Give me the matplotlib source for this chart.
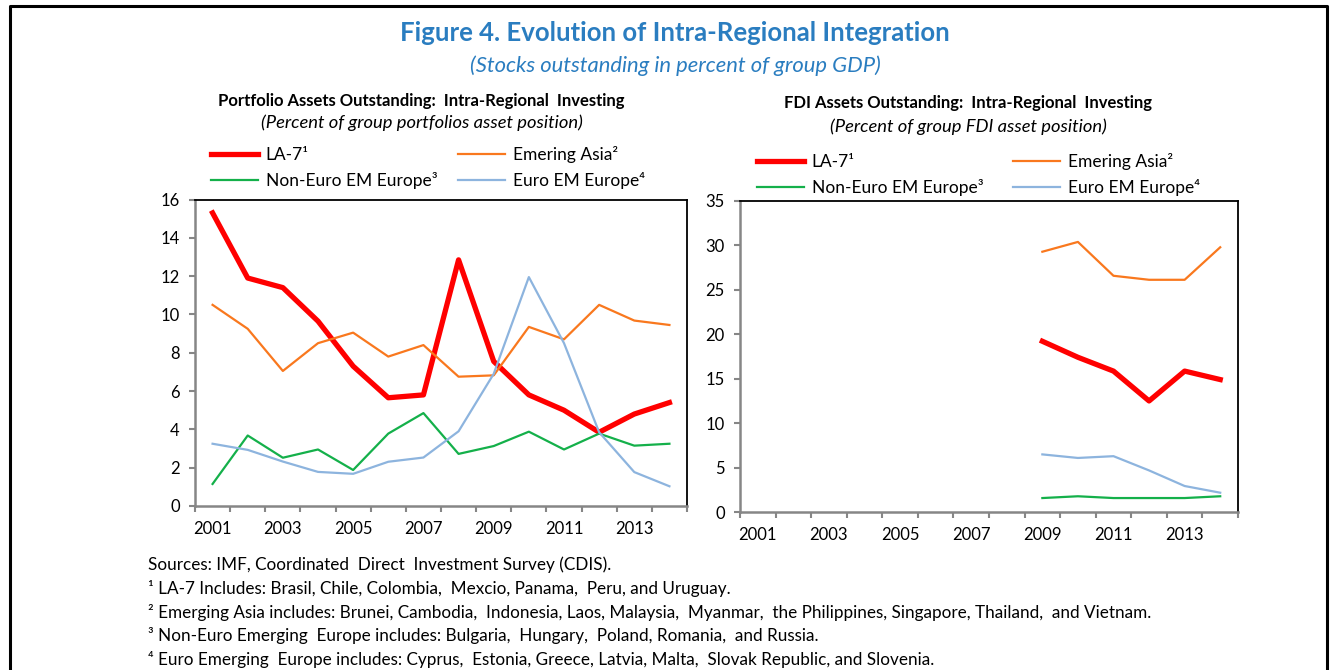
import numpy as np
import matplotlib.pyplot as plt
from matplotlib.lines import Line2D

plt.rcParams['font.family'] = ['Lato', 'DejaVu Sans']

# Data
years = [str(y) for y in range(2001, 2015)]
year_labels = ["2001", "2003", "2005", "2007", "2009", "2011", "2013"]

series_names = ["LA-7\u00b9", "Emering Asia\u00b2", "Non-Euro EM Europe\u00b3", "Euro EM Europe\u2074"]

# Portfolio assets (2001-2014)
port_la7 = [15.3, 11.9, 11.4, 9.65, 7.3, 5.65, 5.8, 12.85, 7.55, 5.8, 5.0, 3.85, 4.8, 5.4]
port_asia = [10.5, 9.25, 7.05, 8.5, 9.05, 7.8, 8.4, 6.75, 6.82, 9.35, 8.7, 10.5, 9.68, 9.45]
port_noneuro = [1.15, 3.68, 2.52, 2.95, 1.88, 3.78, 4.85, 2.72, 3.13, 3.88, 2.95, 3.78, 3.15, 3.25]
port_euro = [3.25, 2.93, 2.32, 1.78, 1.68, 2.31, 2.53, 3.9, 6.9, 11.95, 8.5, 3.85, 1.77, 1.03]

# FDI assets (2009-2014 only)
fdi_years = ["2009", "2010", "2011", "2012", "2013", "2014"]
fdi_la7 = [19.2, 17.4, 15.85, 12.5, 15.85, 14.9]
fdi_asia = [29.25, 30.35, 26.55, 26.1, 26.1, 29.75]
fdi_noneuro = [1.6, 1.8, 1.6, 1.6, 1.6, 1.8]
fdi_euro = [6.5, 6.1, 6.3, 4.7, 2.95, 2.2]

colors = ["#ff0000", "#f9781e", "#14b04a", "#8db4de"]
widths = [3.8, 1.6, 1.6, 1.6]

W, H = 1335, 670
fig = plt.figure(figsize=(W / 100, H / 100), dpi=100)


def px_box(x0, x1, ytop, ybot):
    return [x0 / W, (H - ybot) / H, (x1 - x0) / W, (ybot - ytop) / H]


def style_axis(ax, ymax, ystep):
    x = np.arange(len(years))
    ax.set_xlim(-0.5, len(years) - 0.5)
    ax.set_ylim(0, ymax)
    ax.set_yticks(np.arange(0, ymax + 1, ystep))
    # boundary tick marks, labels on every other category
    ax.set_xticks(np.arange(-0.5, len(years), 1))
    ax.set_xticklabels([])
    ax.set_xticks(x[::2], minor=True)
    ax.set_xticklabels(year_labels, minor=True)
    ax.tick_params(axis="x", which="major", length=4.5, width=1.5, color="#868686", direction="out")
    ax.tick_params(axis="x", which="minor", length=0, pad=10.5, labelsize=12)
    ax.tick_params(axis="y", length=4, width=1.5, color="#868686", pad=7, labelsize=12)
    for s in ["left", "bottom"]:
        ax.spines[s].set_color("#868686")
        ax.spines[s].set_linewidth(1.8)
    for s in ["top", "right"]:
        ax.spines[s].set_color("black")
        ax.spines[s].set_linewidth(1.3)


def draw_lines(ax, xs, vals):
    handles = []
    for v, c, lw, name in zip(vals, colors, widths, series_names):
        h, = ax.plot(xs, v, color=c, lw=lw, label=name, solid_joinstyle="round")
        handles.append(h)
    return handles


leg_kw = dict(ncol=2, loc="upper left", frameon=False, fontsize=12.5,
              handlelength=2.7, handletextpad=0.45, labelspacing=0.5,
              borderpad=0, borderaxespad=0)

# ---- Left panel ----
ax1 = fig.add_axes(px_box(195, 687, 199.5, 506))
style_axis(ax1, 16, 2)
h1 = draw_lines(ax1, np.arange(len(years)),
                [port_la7, port_asia, port_noneuro, port_euro])
order = [0, 2, 1, 3]
ax1.legend([h1[i] for i in order], [series_names[i] for i in order],
           bbox_to_anchor=(211 / W, 1 - 146 / H), bbox_transform=fig.transFigure,
           columnspacing=1.2, **leg_kw)

# ---- Right panel ----
ax2 = fig.add_axes(px_box(740, 1238, 200.5, 512.3))
style_axis(ax2, 35, 5)
fdi_x = [years.index(y) for y in fdi_years]
h2 = draw_lines(ax2, fdi_x, [fdi_la7, fdi_asia, fdi_noneuro, fdi_euro])
ax2.legend([h2[i] for i in order], [series_names[i] for i in order],
           bbox_to_anchor=(757 / W, 1 - 153 / H), bbox_transform=fig.transFigure,
           columnspacing=1.7, **leg_kw)

# ---- Titles ----
blue = "#2a7dc0"
fig.text(675 / W, 1 - 33 / H, "Figure 4. Evolution of Intra-Regional Integration",
         ha="center", va="center", fontsize=18.5, fontweight="bold", color=blue)
fig.text(675 / W, 1 - 66 / H, "(Stocks outstanding in percent of group GDP)",
         ha="center", va="center", fontsize=15.8, style="italic", color=blue)

fig.text(421 / W, 1 - 101 / H, "Portfolio Assets Outstanding:  Intra-Regional  Investing",
         ha="center", va="center", fontsize=12, fontweight="bold")
fig.text(422 / W, 1 - 123 / H, "(Percent of group portfolios asset position)",
         ha="center", va="center", fontsize=13.2, style="italic")
fig.text(968 / W, 1 - 103 / H, "FDI Assets Outstanding:  Intra-Regional  Investing",
         ha="center", va="center", fontsize=12, fontweight="bold")
fig.text(968 / W, 1 - 127 / H, "(Percent of group FDI asset position)",
         ha="center", va="center", fontsize=13.2, style="italic")

# ---- Footnotes ----
notes = [
    "Sources: IMF, Coordinated  Direct  Investment Survey (CDIS).",
    "\u00b9 LA-7 Includes: Brasil, Chile, Colombia,  Mexcio, Panama,  Peru, and Uruguay.",
    "\u00b2 Emerging Asia includes: Brunei, Cambodia,  Indonesia, Laos, Malaysia,  Myanmar,  the Philippines, Singapore, Thailand,  and Vietnam.",
    "\u00b3 Non-Euro Emerging  Europe includes: Bulgaria,  Hungary,  Poland, Romania,  and Russia.",
    "\u2074 Euro Emerging  Europe includes: Cyprus,  Estonia, Greece, Latvia, Malta,  Slovak Republic, and Slovenia.",
]
for i, t in enumerate(notes):
    fig.text(148 / W, 1 - (565 + i * 23.6) / H, t, ha="left", va="center", fontsize=12.3)

# frame around the figure
fig.add_artist(Line2D([10 / W, 10 / W, 1327 / W, 1327 / W], [0, 1 - 6 / H, 1 - 6 / H, 0],
                      transform=fig.transFigure, color="black", lw=2.2))

fig.savefig("out.png", dpi=100)
